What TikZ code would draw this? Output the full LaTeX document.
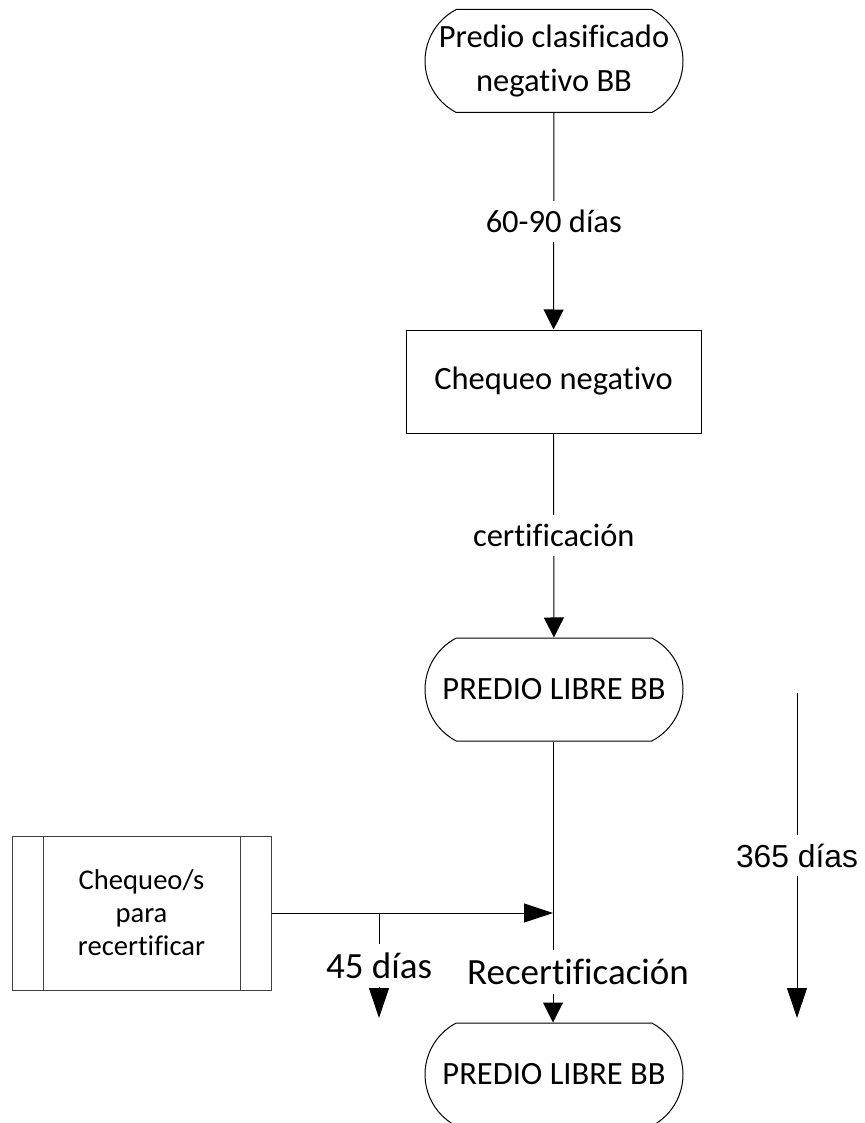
\documentclass[tikz,border=0pt]{standalone}
\usepackage{fontspec}
\setmainfont{Carlito}[Ligatures=NoCommon]
\newfontfamily\arialfont{Liberation Sans}
\usetikzlibrary{shapes.misc,arrows.meta}

\begin{document}
\begin{tikzpicture}[x=0.5pt,y=-0.5pt,
	term/.style={rounded rectangle,rounded rectangle arc length=125,draw,line width=0.5pt,minimum width=129pt,minimum height=51.5pt,inner sep=0pt,align=center,font=\fontsize{16.25}{22}\selectfont},
	proc/.style={rectangle,draw,line width=0.5pt,minimum width=147.5pt,minimum height=51.5pt,font=\fontsize{16.25}{21}\selectfont},
	lbl/.style={fill=white,text=black,inner xsep=2pt,inner ysep=4.5pt,font=\fontsize{16.25}{20}\selectfont},
	arr/.style={-{Triangle[length=10pt,width=10pt]},line width=0.5pt}]
	\useasboundingbox (0,0) rectangle (865,1123);

	% Nodes start here
	\node (top) at (554,61) [term] {Predio clasificado\\negativo BB};
	\node (chk) at (553.5,381.5) [proc] {Chequeo negativo};
	\node (libre1) at (554,689.5) [term] {PREDIO LIBRE BB};
	\node (libre2) at (554,1074.5) [term] {PREDIO LIBRE BB};
	\node (recert) at (141.5,913) [rectangle,draw=black!75,line width=0.5pt,minimum width=129.5pt,minimum height=77pt,align=center,font=\fontsize{14.3}{16.5}\selectfont] {Chequeo/s\\para\\recertificar};
	\draw[black!75,line width=0.5pt] ([xshift=15.75pt]recert.north west) -- ([xshift=15.75pt]recert.south west);
	\draw[black!75,line width=0.5pt] ([xshift=-15.75pt]recert.north east) -- ([xshift=-15.75pt]recert.south east);

	\coordinate (join) at (553,913);
	\coordinate (split) at (379,913);
	\coordinate (splitend) at (379,1018);
	\coordinate (yeartop) at (797,693);
	\coordinate (yearend) at (797,1018);

	% Lines start here
	\draw[arr] (top) to node[lbl] {60-90 días} (chk);
	\draw[arr] (chk) to node[lbl] {certificación} (libre1);
	\draw[arr] (libre1.south -| join) to (libre2.north -| join);
	\draw[-{Triangle[length=14.5pt,width=9.5pt]},line width=0.5pt] (recert.east) to (join);
	\draw[-{Triangle[length=15pt,width=10pt]},line width=0.5pt] (split) to node[lbl,font=\fontsize{18.5}{20}\selectfont] {45 días} (splitend);
	\draw[-{Triangle[length=15pt,width=10pt]},line width=0.5pt] (yeartop) to node[lbl,font=\arialfont\fontsize{15.9}{18}\selectfont] {365 días} (yearend);
	\node (recertlbl) at (578,972) [lbl,font=\fontsize{18.5}{20}\selectfont] {Recertificación};

\end{tikzpicture}
\end{document}
